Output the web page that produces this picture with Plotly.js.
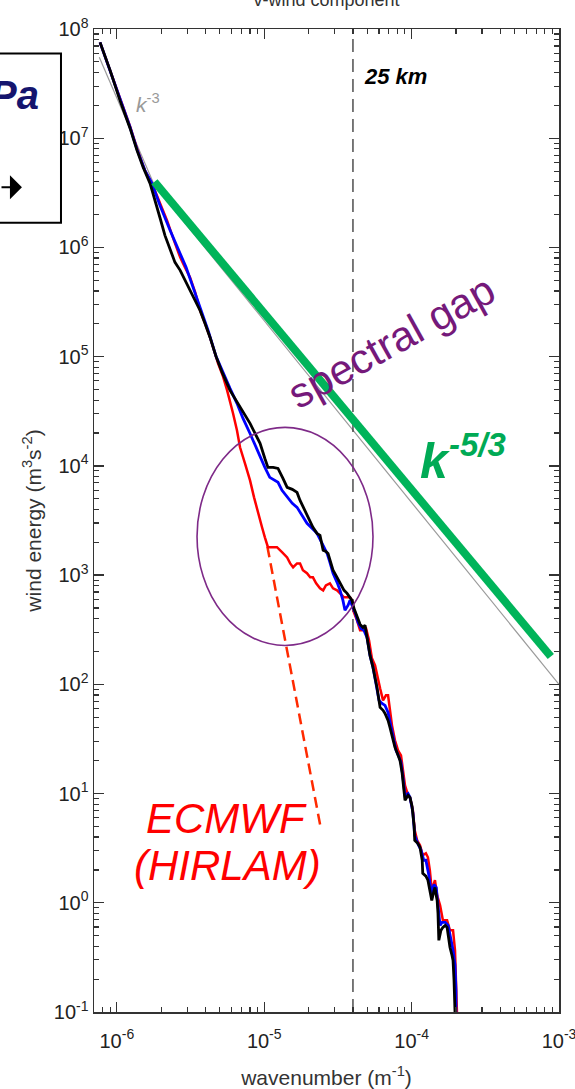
<!DOCTYPE html>
<html><head><meta charset="utf-8">
<script src="https://cdn.plot.ly/plotly-3.0.1.min.js"></script>
<style>html,body{margin:0;padding:0;background:#fff;}#chart{width:575px;height:1089px;}</style>
</head><body><div id="chart"></div>
<script>
// ---------- data (wavenumber k in m^-1, energy E in m^3 s^-2) ----------
const kRed = [7.69e-7,9.0e-7,1.05e-6,1.23e-6,1.37e-6,1.55e-6,1.73e-6,1.96e-6,2.19e-6,2.44e-6,2.69e-6,2.90e-6,3.14e-6,3.40e-6,3.67e-6,3.96e-6,4.29e-6,4.86e-6,5.25e-6,5.60e-6,5.86e-6,6.14e-6,6.53e-6,6.85e-6,7.41e-6,8.01e-6,8.53e-6,9.08e-6,9.66e-6,1.01e-5,1.06e-5,1.13e-5,1.22e-5,1.32e-5,1.43e-5,1.50e-5,1.57e-5,1.67e-5,1.75e-5,1.83e-5,1.95e-5,2.05e-5,2.14e-5,2.25e-5,2.39e-5,2.51e-5,2.62e-5,2.79e-5,2.93e-5,3.12e-5,3.27e-5,3.48e-5,3.65e-5,3.82e-5,3.94e-5,4.06e-5,4.26e-5,4.47e-5,4.68e-5,4.91e-5,5.14e-5,5.38e-5,5.65e-5,5.92e-5,6.11e-5,6.40e-5,6.70e-5,6.92e-5,7.13e-5,7.36e-5,7.71e-5,8.09e-5,8.47e-5,8.75e-5,9.02e-5,9.46e-5,9.75e-5,1.02e-4,1.05e-4,1.09e-4,1.14e-4,1.19e-4,1.25e-4,1.29e-4,1.33e-4,1.37e-4,1.44e-4,1.49e-4,1.56e-4,1.63e-4,1.74e-4,1.82e-4,1.91e-4,1.97e-4,2.00e-4,2.03e-4,2.03e-4];
const eRed = [7.54e7,4.18e7,2.32e7,1.28e7,8.07e6,5.08e6,3.86e6,2.59e6,1.77e6,1.16e6,8.11e5,6.57e5,5.32e5,3.88e5,2.65e5,2.02e5,1.50e5,8.68e4,6.60e4,4.91e4,3.74e4,3.03e4,2.12e4,1.48e4,1.05e4,7.37e3,5.15e3,3.68e3,2.74e3,2.22e3,1.80e3,1.80e3,1.80e3,1.62e3,1.45e3,1.28e3,1.18e3,1.28e3,1.28e3,1.11e3,1.04e3,954,954,840,756,725,806,840,756,725,681,626,626,626,587,456,385,312,312,325,253,173,149,109,91.9,71.3,79.3,79.3,57.8,42.1,30.7,24.9,22.4,16.3,11.9,9.63,9.23,7.02,4.61,3.73,3.36,2.72,2.84,2.61,1.98,1.30,1.61,1.17,0.947,0.691,0.691,0.559,0.559,0.367,0.195,0.1,0.05];

const kBlue = [7.69e-7,9.0e-7,1.05e-6,1.23e-6,1.37e-6,1.55e-6,1.73e-6,1.96e-6,2.30e-6,2.60e-6,2.95e-6,3.29e-6,3.67e-6,4.16e-6,4.71e-6,5.33e-6,5.86e-6,6.53e-6,7.18e-6,8.01e-6,8.67e-6,9.37e-6,1.01e-5,1.09e-5,1.18e-5,1.24e-5,1.32e-5,1.43e-5,1.55e-5,1.67e-5,1.80e-5,1.95e-5,2.11e-5,2.28e-5,2.47e-5,2.67e-5,2.79e-5,2.93e-5,3.12e-5,3.27e-5,3.42e-5,3.53e-5,3.70e-5,3.82e-5,4.00e-5,4.13e-5,4.33e-5,4.54e-5,4.75e-5,4.98e-5,5.22e-5,5.47e-5,5.73e-5,6.01e-5,6.30e-5,6.60e-5,6.92e-5,7.13e-5,7.48e-5,7.84e-5,8.22e-5,8.47e-5,8.75e-5,9.02e-5,9.46e-5,9.75e-5,1.02e-4,1.05e-4,1.10e-4,1.16e-4,1.21e-4,1.25e-4,1.31e-4,1.36e-4,1.42e-4,1.47e-4,1.51e-4,1.56e-4,1.61e-4,1.69e-4,1.77e-4,1.85e-4,1.91e-4,1.97e-4,2.00e-4,2.00e-4,2.00e-4];
const eBlue = [7.54e7,4.18e7,2.27e7,1.26e7,7.90e6,5.08e6,3.86e6,2.43e6,1.43e6,9.80e5,6.57e5,4.31e5,2.83e5,1.74e5,1.006e5,6.74e4,5.12e4,3.74e4,2.72e4,1.98e4,1.54e4,1.20e4,9.69e3,7.85e3,7.37e3,7.07e3,5.97e3,5.15e3,4.54e3,4.17e3,3.52e3,2.98e3,2.68e3,2.41e3,1.95e3,1.58e3,1.31e3,1.04e3,858,725,587,476,528,587,507,456,369,325,312,269,184,143,102,71.3,66.9,64.2,55.4,44.9,32.7,24.9,21.5,19.3,13.8,9.63,10.0,9.23,6.73,4.14,3.50,3.02,2.45,2.45,1.78,1.22,1.47,1.38,0.947,0.621,0.662,0.662,0.621,0.453,0.367,0.268,0.158,0.1,0.05];

const kBlack = [7.69e-7,9.0e-7,1.05e-6,1.23e-6,1.37e-6,1.51e-6,1.68e-6,1.82e-6,1.96e-6,2.12e-6,2.30e-6,2.48e-6,2.69e-6,2.90e-6,3.14e-6,3.40e-6,3.67e-6,3.96e-6,4.29e-6,4.71e-6,5.18e-6,5.86e-6,6.44e-6,7.18e-6,8.01e-6,8.67e-6,9.37e-6,1.01e-5,1.06e-5,1.15e-5,1.24e-5,1.34e-5,1.43e-5,1.55e-5,1.67e-5,1.75e-5,1.83e-5,1.95e-5,2.05e-5,2.14e-5,2.28e-5,2.39e-5,2.51e-5,2.62e-5,2.71e-5,2.84e-5,2.93e-5,3.12e-5,3.27e-5,3.48e-5,3.65e-5,3.94e-5,4.06e-5,4.26e-5,4.47e-5,4.68e-5,4.83e-5,5.06e-5,5.22e-5,5.47e-5,5.65e-5,5.82e-5,6.11e-5,6.40e-5,6.60e-5,6.92e-5,7.13e-5,7.48e-5,7.71e-5,8.09e-5,8.34e-5,8.61e-5,8.75e-5,9.02e-5,9.46e-5,9.75e-5,1.007e-4,1.02e-4,1.04e-4,1.05e-4,1.10e-4,1.14e-4,1.18e-4,1.19e-4,1.25e-4,1.29e-4,1.33e-4,1.37e-4,1.42e-4,1.44e-4,1.49e-4,1.51e-4,1.53e-4,1.58e-4,1.63e-4,1.69e-4,1.74e-4,1.77e-4,1.82e-4,1.88e-4,1.91e-4,1.94e-4,1.97e-4,1.97e-4];
const eBlack = [7.54e7,4.18e7,2.22e7,1.23e7,7.74e6,5.41e6,3.86e6,2.70e6,1.88e6,1.29e6,9.40e5,7.30e5,6.17e5,4.99e5,4.04e5,3.27e5,2.65e5,2.02e5,1.50e5,1.006e5,7.18e4,4.91e4,3.98e4,3.22e4,2.45e4,1.98e4,1.61e4,1.17e4,9.69e3,9.69e3,9.49e3,7.69e3,6.36e3,6.10e3,5.72e3,4.83e3,4.26e3,3.68e3,3.17e3,2.74e3,2.41e3,2.31e3,1.69e3,1.65e3,1.58e3,1.31e3,1.11e3,954,840,725,681,587,496,410,354,332,347,237,184,143,116,93.8,61.5,57.8,54.2,46.8,40.4,32.0,26.5,22.4,20.1,15.6,13.2,8.67,9.63,9.23,7.64,6.59,5.01,3.73,3.50,3.22,2.45,1.86,1.75,1.61,1.30,1.05,1.30,1.38,1.05,0.800,0.453,0.559,0.596,0.621,0.596,0.503,0.391,0.330,0.297,0.195,0.1,0.05];

// reference slopes
const kSlope3 = [7.6e-7, 1.8e-6];      // k^-3 (grey)
const eSlope3 = [5.5e7, 3.7e6];
const kSlope53 = [1.8e-6, 1.0e-3];     // k^-5/3 (grey)
const eSlope53 = [3.7e6, 100];
const kGreen = [1.8e-6, 8.8e-4];       // k^-5/3 (green)
const eGreen = [4.0e6, 180];
const kEcmwf = [1.05e-5, 2.4e-5];      // ECMWF extrapolation (dashed red)
const eEcmwf = [1830, 5.1];
const kRes = [4e-5, 4e-5];             // 25 km
const eRes = [0.1, 1e8];

const xTickVals = [1e-6, 1e-5, 1e-4, 1e-3];
const xTickText = ['10<sup>-6</sup>','10<sup>-5</sup>','10<sup>-4</sup>','10<sup>-3</sup>'];
const yTickVals = [1e-1,1e0,1e1,1e2,1e3,1e4,1e5,1e6,1e7,1e8];
const yTickText = ['10<sup>-1</sup>','10<sup>0</sup>','10<sup>1</sup>','10<sup>2</sup>','10<sup>3</sup>','10<sup>4</sup>','10<sup>5</sup>','10<sup>6</sup>','10<sup>7</sup>','10<sup>8</sup>'];

// minor tick positions (2..9 in each decade)
function minorTicks(d0, d1){ const out=[]; for(let d=d0; d<d1; d++){ for(let m=2;m<=9;m++){ out.push(m*Math.pow(10,d)); } } return out; }

const FONT = "'Liberation Sans', Arial, Helvetica, sans-serif";

const traces = [
  {x:kSlope3, y:eSlope3, mode:'lines', line:{color:'#9a9a9a', width:1.2}},
  {x:kSlope53, y:eSlope53, mode:'lines', line:{color:'#9a9a9a', width:1.2}},
  {x:kRes, y:eRes, mode:'lines', line:{color:'#333', width:1.3, dash:'13px,7px'}},
  {x:kEcmwf, y:eEcmwf, mode:'lines', line:{color:'#ff2a00', width:2.5, dash:'11px,6px'}},
  {x:kRed, y:eRed, mode:'lines', line:{color:'#ff0000', width:2.5}},
  {x:kBlue, y:eBlue, mode:'lines', line:{color:'#0000ff', width:2.8}},
  {x:kBlack, y:eBlack, mode:'lines', line:{color:'#000000', width:2.8}},
  {x:kGreen, y:eGreen, mode:'lines', line:{color:'#00b45a', width:8}}
];

const axisCommon = {
  type:'log', showgrid:false, zeroline:false, showline:true, mirror:'ticks',
  linecolor:'#333', linewidth:1.5, ticks:'inside', ticklen:10, tickwidth:1.3, tickcolor:'#333',
  tickmode:'array', tickfont:{family:FONT, size:20, color:'#222'}, ticklabeloverflow:'allow'
};

const layout = {
  width:575, height:1089,
  margin:{l:94, r:16, t:29, b:77, pad:0},
  paper_bgcolor:'#fff', plot_bgcolor:'#fff',
  showlegend:false,
  font:{family:FONT, color:'#222'},
  title:{text:'v-wind component', font:{family:FONT, size:18, color:'#333'},
         xref:'paper', x:0.5, xanchor:'center', yref:'container', y:1, yanchor:'middle'},
  xaxis: Object.assign({}, axisCommon, {
    range:[-6.155, -3], tickvals:xTickVals, ticktext:xTickText, ticklabelstandoff:10,
    minor:{tickmode:'array', tickvals:minorTicks(-7,-3), ticks:'inside', ticklen:5, tickcolor:'#333', tickwidth:1.2},
    title:{text:'wavenumber (m<sup>-1</sup>)', font:{family:FONT, size:21, color:'#333'}, standoff:20}
  }),
  yaxis: Object.assign({}, axisCommon, {
    range:[-1, 8], tickvals:yTickVals, ticktext:yTickText,
    minor:{tickmode:'array', tickvals:minorTicks(-1,8), ticks:'inside', ticklen:5, tickcolor:'#333', tickwidth:1.2},
    title:{text:'wind energy (m<sup>3</sup>s<sup>-2</sup>)', font:{family:FONT, size:21, color:'#333'}, standoff:6}
  }),
  shapes:[
    {type:'circle', xref:'x', yref:'y', x0:3.5e-6, x1:5.47e-5, y0:227, y1:2.25e4,
     line:{color:'#7e2a88', width:1.6}, layer:'above'},
    {type:'rect', xref:'paper', yref:'paper', x0:-0.3, x1:-0.071, y0:0.803, y1:0.975,
     fillcolor:'#fff', line:{color:'#000', width:2}, layer:'above'}
  ],
  annotations:[
    {xref:'paper', yref:'paper', x:0.649, y:0.952, xanchor:'center', yanchor:'middle', text:'<b><i>25 km</i></b>', showarrow:false,
     font:{family:FONT, size:22, color:'#000'}},
    {xref:'paper', yref:'paper', x:0.116, y:0.925, xanchor:'center', yanchor:'middle', text:'<i>k</i><sup>-3</sup>', showarrow:false,
     font:{family:FONT, size:21, color:'#999'}},
    {xref:'paper', yref:'paper', x:0.640, y:0.682, xanchor:'center', yanchor:'middle', text:'spectral gap', textangle:-29, showarrow:false,
     font:{family:FONT, size:42, color:'#75197a'}},
    {xref:'paper', yref:'paper', x:0.697, y:0.561, xanchor:'left', yanchor:'middle', text:'<b><i>k</i></b>', showarrow:false,
     font:{family:FONT, size:50, color:'#00aa55'}},
    {xref:'paper', yref:'paper', x:0.759, y:0.577, xanchor:'left', yanchor:'middle', text:'<b><i>-5/3</i></b>', showarrow:false,
     font:{family:FONT, size:33, color:'#00aa55'}},
    {xref:'paper', yref:'paper', x:0.286, y:0.197, xanchor:'center', yanchor:'middle', text:'<i>ECMWF</i>', showarrow:false,
     font:{family:FONT, size:42, color:'#ff0000'}},
    {xref:'paper', yref:'paper', x:0.288, y:0.149, xanchor:'center', yanchor:'middle', text:'<i>(HIRLAM)</i>', showarrow:false,
     font:{family:FONT, size:42, color:'#ff0000'}},
    {xref:'paper', yref:'paper', x:-0.114, y:0.933, xanchor:'right', yanchor:'middle', text:'<b><i>Pa</i></b>', showarrow:false,
     font:{family:FONT, size:40, color:'#15156e'}},
    {xref:'paper', yref:'paper', x:-0.155, y:0.839, text:'', showarrow:true, ax:-45, ay:0,
     arrowhead:1, arrowsize:2, arrowwidth:2, arrowcolor:'#000', standoff:0}
  ]
};

Plotly.newPlot('chart', traces, layout, {displayModeBar:false, staticPlot:true});
</script></body></html>
